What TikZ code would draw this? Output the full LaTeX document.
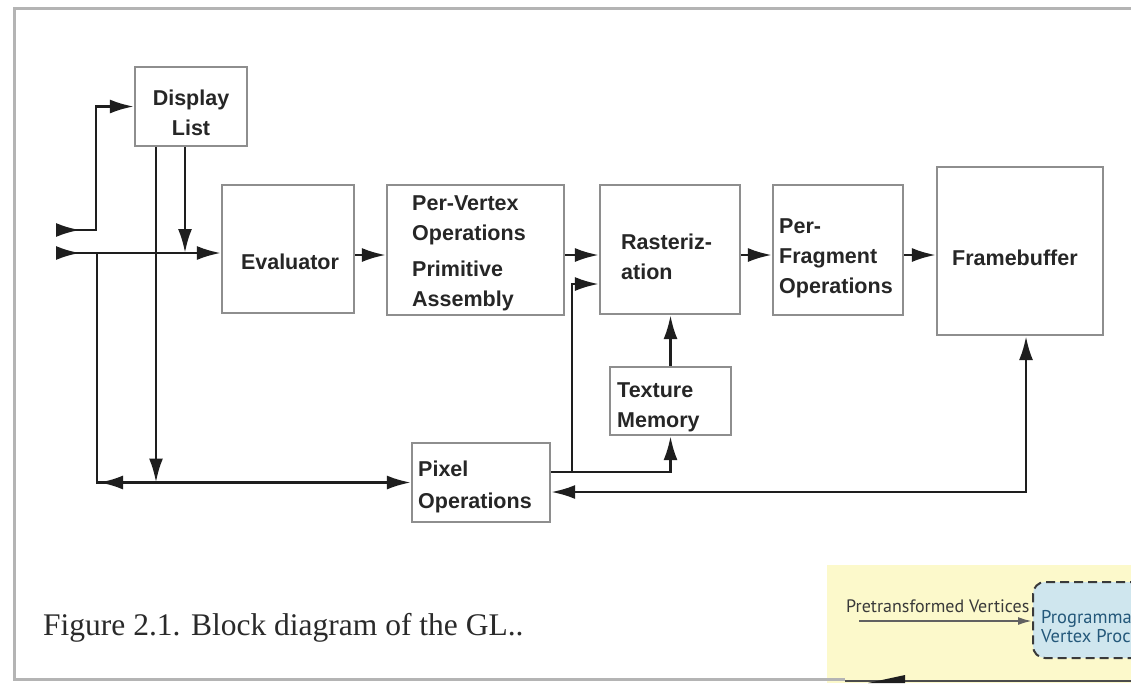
\documentclass[tikz,border=0pt]{standalone}
\usepackage{fontspec}
\setmainfont{Liberation Serif}
\newfontfamily\blockfont{Liberation Sans}
\newfontfamily\insetfont{PT Sans}
\usetikzlibrary{arrows.meta,calc}
\definecolor{boxgray}{HTML}{8E8E8E}
\definecolor{framegray}{HTML}{B4B4B4}
\definecolor{wire}{HTML}{1E1E1E}
\definecolor{ink}{HTML}{262626}
\definecolor{captionink}{HTML}{2A2A2A}
\definecolor{insetyellow}{HTML}{FCF9CB}
\definecolor{insetblue}{HTML}{CFE6EE}
\definecolor{insetink}{HTML}{3A3A3A}
\definecolor{insetteal}{HTML}{24587A}

\begin{document}
\begin{tikzpicture}[x=1pt,y=-1pt,
  box/.style={draw=boxgray, line width=2.2pt, fill=white, inner sep=0pt},
  lbl/.style={font=\blockfont\bfseries\fontsize{21.5}{30}\selectfont,
              text=ink, inner sep=0pt, align=left, anchor=west},
  clbl/.style={lbl, align=center, anchor=center},
  tip/.tip={Latex[length=24pt,width=14pt]},
  conn/.style={draw=wire, line width=2.8pt, -tip},
  wireline/.style={draw=wire, line width=2.8pt}]

\useasboundingbox (0,0) rectangle (1131,683);
\clip (0,0) rectangle (1131,683);
\fill[white] (0,0) rectangle (1131,683);

% page frame around the figure
\draw[framegray, line width=3pt] (1140,8) -- (14,8) -- (14,679) -- (843,679);

% pipeline blocks
\node[box, minimum width=112pt, minimum height=79pt]  (dl) at (191,106.5) {};
\node[box, minimum width=132pt, minimum height=128pt] (ev) at (288,249)   {};
\node[box, minimum width=177pt, minimum height=130pt] (pv) at (475.5,250) {};
\node[box, minimum width=140pt, minimum height=129pt] (ra) at (670,249.5) {};
\node[box, minimum width=130pt, minimum height=130pt] (pf) at (838,250)   {};
\node[box, minimum width=166pt, minimum height=168pt] (fb) at (1020,251)  {};
\node[box, minimum width=121pt, minimum height=68pt]  (tm) at (670.5,401) {};
\node[box, minimum width=138pt, minimum height=79pt]  (po) at (481,482.5) {};

% block labels
\node[clbl] (dltext) at (191,113) {Display\\List};
\node[clbl] (evtext) at (290,262) {Evaluator};
\node[lbl]  (pvtext) at (412,253) {Per-Vertex\\Operations\\[6pt]Primitive\\Assembly};
\node[lbl]  (ratext) at (621,257) {Rasteriz-\\ation};
\node[lbl]  (pftext) at (779,258) {Per-\\Fragment\\Operations};
\node[lbl]  (fbtext) at (952,258) {Framebuffer};
\node[lbl]  (tmtext) at (617,407) {Texture\\Memory};
\node[lbl, font=\blockfont\bfseries\fontsize{21.5}{32}\selectfont]
            (potext) at (418,487) {Pixel\\Operations};

% junction points of the wiring
\coordinate (in1) at (60,230);
\coordinate (in2) at (60,253);
\coordinate (jA)  at (97,253);
\coordinate (row) at (0,255);
\coordinate (pix) at (572,472);
\coordinate (rin) at (572,284);
\coordinate (rb)  at (0,492);

% command inputs
\draw[conn] (in1) -| ([xshift=-38pt]dl.west) -- (dl.west);
\draw[conn] (in1) -- ++(20,0);
\draw[conn] (in2) -- (in2 -| ev.west);
\draw[conn] (in2) -- ++(20,0);

% display list outputs
\draw[conn] ([xshift=-6pt]dl.south) -- ([xshift=-6pt]dl.south |- in2);
\draw[conn] ([xshift=-35pt]dl.south) -- ([xshift=-35pt]dl.south |- po.west);

% pixel path on the left
\draw[conn] (jA) |- (po.west);
\draw[conn] ($(jA |- po.west)+(33,0)$) -- ($(jA |- po.west)+(2,0)$);

% geometry pipeline
\draw[conn] (ev.east |- row) -- (pv.west |- row);
\draw[conn] (pv.east |- row) -- (ra.west |- row);
\draw[conn] (ra.east |- row) -- (pf.west |- row);
\draw[conn] (pf.east |- row) -- (fb.west |- row);

% pixel operations to rasterization and texture memory
\draw[conn] (po.east |- pix) -- (pix) -- (rin) -- (rin -| ra.west);
\draw[conn] (pix) -| (tm.south);
\draw[conn] (tm.north) -- (tm.north |- ra.south);

% framebuffer read/write path
\draw[wireline, tip-tip] (po.east |- rb) -| ([xshift=6pt]fb.south);

% caption
\node[font=\fontsize{31.5}{36}\selectfont, text=captionink, anchor=west, inner sep=0pt]
  (cap) at (43,628) {Figure 2.1. Block diagram of the GL..};

% overlapping inset in the lower right corner
\fill[insetyellow] (827,565) rectangle (1131,683);
\node[font=\insetfont\fontsize{18}{20}\selectfont, text=insetink, anchor=west, inner sep=0pt]
  (ptv) at (846,606) {Pretransformed Vertices};
\node[draw=insetink, dash pattern=on 9pt off 5pt, line width=2pt, fill=insetblue,
      rounded corners=12pt, minimum width=160pt, minimum height=76pt] (pb) at (1113,620) {};
\node[font=\insetfont\fontsize{18.5}{19}\selectfont, text=insetteal, anchor=west,
      align=left, inner sep=0pt] (pbtext) at (1041,627) {Programma\\Vertex Proc};
\coordinate (ptvstart) at (859,621);
\draw[draw=insetink!80, line width=2pt, -{Latex[length=14pt,width=8pt]}] (ptvstart) -- (ptvstart -| pb.west);
\draw[framegray, line width=3pt] (820,679) -- (845,679);
\draw[wire!80, line width=2pt] (845,681) -- (1131,681);
\fill[wire] (868,683) -- (905,675) -- (905,683) -- cycle;
\end{tikzpicture}
\end{document}
